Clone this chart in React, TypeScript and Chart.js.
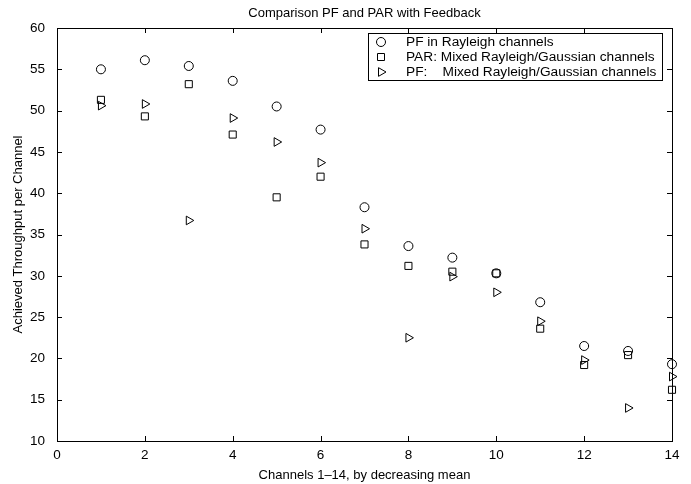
import React, { useEffect, useRef } from "react";
import { Chart, registerables } from "chart.js";

Chart.register(...registerables);

const channels = [1, 2, 3, 4, 5, 6, 7, 8, 9, 10, 11, 12, 13, 14];
const pfRayleigh = [55.0, 56.1, 55.4, 53.6, 50.5, 47.7, 38.3, 33.6, 32.2, 30.3, 26.8, 21.5, 20.9, 19.3];
const parMixed = [51.3, 49.3, 53.2, 47.1, 39.5, 42.0, 33.8, 31.2, 30.5, 30.3, 23.6, 19.2, 20.4, 16.2];
const pfMixed = [50.6, 50.8, 36.7, 49.1, 46.2, 43.7, 35.7, 22.5, 29.9, 28.0, 24.5, 19.8, 14.0, 17.8];

const xTicks = [0, 2, 4, 6, 8, 10, 12, 14];
const yTicks = [10, 15, 20, 25, 30, 35, 40, 45, 50, 55, 60];

const seriesLabels = [
  "PF in Rayleigh channels",
  "PAR: Mixed Rayleigh/Gaussian channels",
  "PF:    Mixed Rayleigh/Gaussian channels",
];
const seriesStyles = ["circle", "rect", "triangle"];

const chartTitle = "Comparison PF and PAR with Feedback";
const xTitle = "Channels 1\u201314, by decreasing mean";
const yTitle = "Achieved Throughput per Channel";

const FONT = "'Liberation Sans', Arial, Helvetica, sans-serif";

function drawMarker(ctx: CanvasRenderingContext2D, style: string, x: number, y: number) {
  ctx.beginPath();
  if (style === "circle") {
    ctx.arc(x, y, 4.5, 0, Math.PI * 2);
  } else if (style === "rect") {
    ctx.rect(x - 3.5, y - 3.5, 7, 7);
  } else {
    const r = 5;
    for (let i = 0; i < 3; i++) {
      const ang = Math.PI / 2 + (i * 2 * Math.PI) / 3;
      const px = x + Math.sin(ang) * r;
      const py = y - Math.cos(ang) * r;
      if (i === 0) ctx.moveTo(px, py);
      else ctx.lineTo(px, py);
    }
    ctx.closePath();
  }
  ctx.stroke();
}

const framePlugin = {
  id: "matlabFrame",
  beforeDatasetsDraw(chart: any) {
    const { ctx, chartArea: a, scales } = chart;
    const xs = scales.x;
    const ys = scales.y;
    ctx.save();
    ctx.strokeStyle = "#000";
    ctx.lineWidth = 1;
    ctx.strokeRect(a.left + 0.5, a.top + 0.5, a.right - a.left, a.bottom - a.top);
    const L = 5;
    ctx.beginPath();
    xTicks.forEach((v) => {
      const px = Math.round(xs.getPixelForValue(v)) + 0.5;
      ctx.moveTo(px, a.bottom);
      ctx.lineTo(px, a.bottom - L);
      ctx.moveTo(px, a.top);
      ctx.lineTo(px, a.top + L);
    });
    yTicks.forEach((v) => {
      const py = Math.round(ys.getPixelForValue(v)) + 0.5;
      ctx.moveTo(a.left, py);
      ctx.lineTo(a.left + L, py);
      ctx.moveTo(a.right, py);
      ctx.lineTo(a.right - L, py);
    });
    ctx.stroke();

    // titles
    ctx.fillStyle = "#000";
    ctx.textAlign = "center";
    ctx.textBaseline = "middle";
    ctx.font = `13px ${FONT}`;
    const cx = (a.left + a.right) / 2;
    ctx.fillText(chartTitle, cx, 13);
    ctx.fillText(xTitle, cx, 475);
    ctx.save();
    ctx.translate(18, (a.top + a.bottom) / 2);
    ctx.rotate(-Math.PI / 2);
    ctx.fillText(yTitle, 0, 0);
    ctx.restore();
    ctx.restore();
  },
  afterDraw(chart: any) {
    const { ctx, chartArea: a } = chart;
    ctx.save();
    ctx.strokeStyle = "#000";
    ctx.lineWidth = 1;
    ctx.textBaseline = "middle";
    ctx.font = `13.7px ${FONT}`;
    let maxW = 0;
    seriesLabels.forEach((s) => {
      maxW = Math.max(maxW, ctx.measureText(s).width);
    });
    const boxW = Math.round(38 + maxW + 6);
    const right = a.right - 10;
    const left = Math.round(right - boxW);
    const top = a.top + 5;
    const rowH = 15;
    const boxH = 47;
    ctx.fillStyle = "#fff";
    ctx.fillRect(left + 0.5, top + 0.5, boxW, boxH);
    ctx.strokeRect(left + 0.5, top + 0.5, boxW, boxH);
    ctx.fillStyle = "#000";
    ctx.textAlign = "left";
    seriesLabels.forEach((s, i) => {
      const y = top + 9 + i * rowH;
      drawMarker(ctx, seriesStyles[i], left + 13, y);
      ctx.fillText(s, left + 38, y);
    });
    ctx.restore();
  },
};

export default function App() {
  const ref = useRef<HTMLCanvasElement>(null);
  useEffect(() => {
    document.body.style.margin = "0";
    const canvas = ref.current!;
    const mk = (data: number[]) => channels.map((c, i) => ({ x: c, y: data[i] }));
    const common = {
      showLine: false,
      borderColor: "#000",
      backgroundColor: "rgba(0,0,0,0)",
      borderWidth: 1,
      clip: false,
    };
    const chart = new Chart(canvas, {
      type: "scatter",
      data: {
        datasets: [
          { ...common, label: seriesLabels[0], data: mk(pfRayleigh), pointStyle: "circle", pointRadius: 4.5 },
          { ...common, label: seriesLabels[1], data: mk(parMixed), pointStyle: "rect", pointRadius: 5 },
          { ...common, label: seriesLabels[2], data: mk(pfMixed), pointStyle: "triangle", pointRadius: 5, rotation: 90 } as any,
        ],
      },
      options: {
        animation: false,
        responsive: false,
        events: [],
        layout: { padding: { top: 28, right: 19, left: 0, bottom: 0 } },
        plugins: {
          legend: { display: false },
          tooltip: { enabled: false },
          title: { display: false },
        },
        scales: {
          x: {
            type: "linear",
            min: 0,
            max: 14,
            afterBuildTicks: (s: any) => {
              s.ticks = xTicks.map((v) => ({ value: v }));
            },
            afterFit: (s: any) => {
              s.height = 43;
            },
            grid: { display: false },
            border: { display: false },
            ticks: {
              color: "#000",
              font: { family: FONT, size: 13.5 },
              padding: -2,
              maxRotation: 0,
            },
          },
          y: {
            type: "linear",
            min: 10,
            max: 60,
            afterBuildTicks: (s: any) => {
              s.ticks = yTicks.map((v) => ({ value: v }));
            },
            afterFit: (s: any) => {
              s.width = 57;
            },
            grid: { display: false },
            border: { display: false },
            ticks: {
              color: "#000",
              font: { family: FONT, size: 13.5 },
              padding: 4,
            },
          },
        },
      },
      plugins: [framePlugin],
    } as any);
    return () => chart.destroy();
  }, []);
  return <canvas ref={ref} width={691} height={484} style={{ display: "block" }} />;
}
